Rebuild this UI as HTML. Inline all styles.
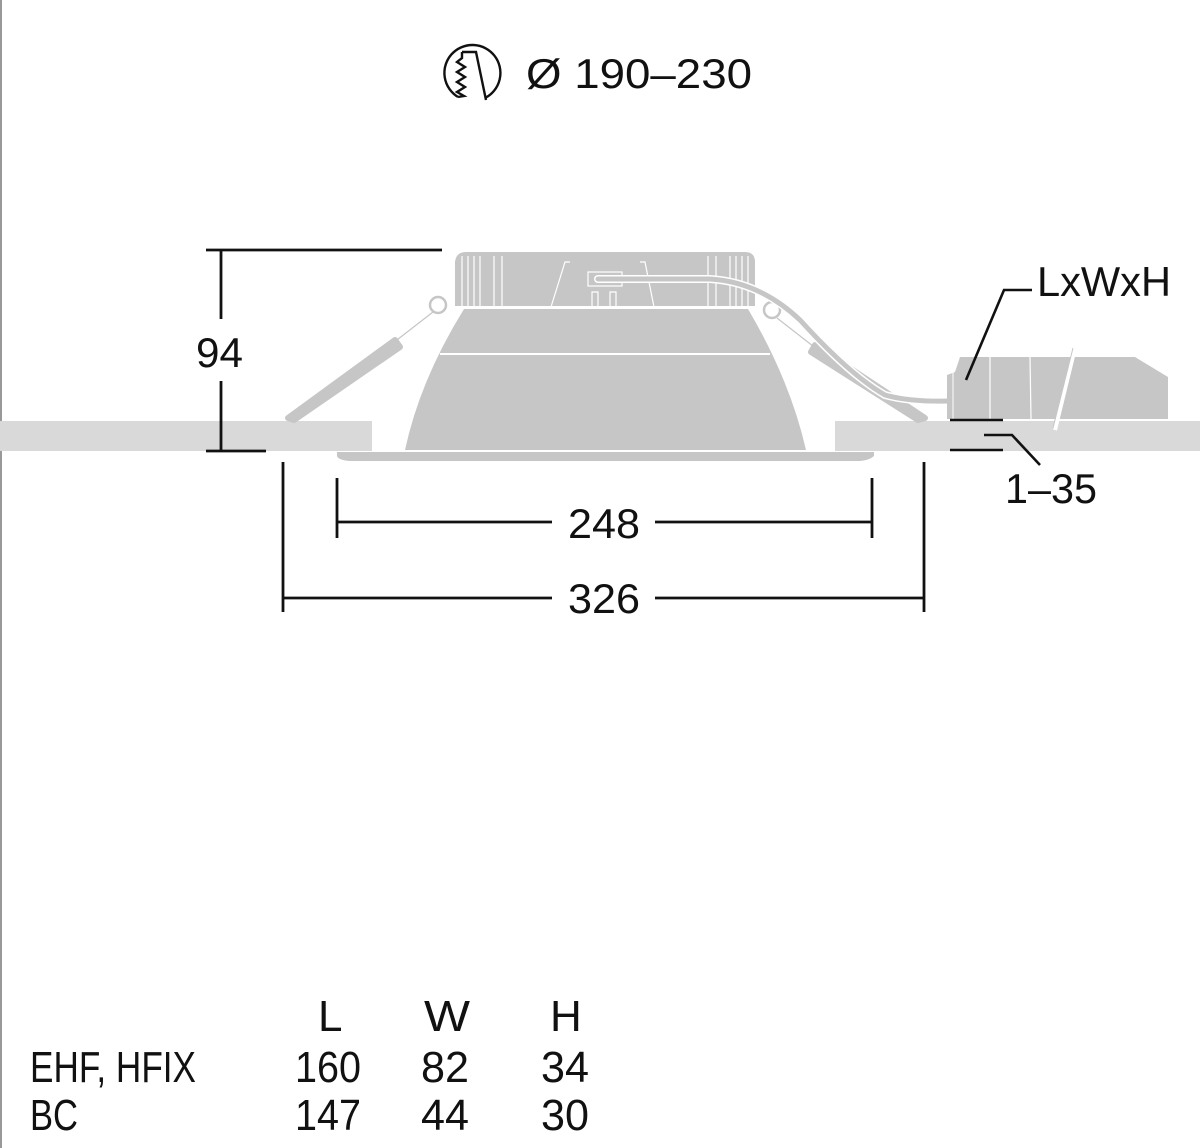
<!DOCTYPE html>
<html><head><meta charset="utf-8"><style>
html,body{margin:0;padding:0;background:#fff;}
svg{display:block;}
text{font-family:"Liberation Sans Narrow","Liberation Sans",sans-serif;fill:#111;}
</style></head><body>
<svg width="1200" height="1148" viewBox="0 0 1200 1148" xmlns="http://www.w3.org/2000/svg">
<rect x="0" y="0" width="2" height="1148" fill="#999"/>
<!-- top icon -->
<path d="M458,97 A28,28 0 1 1 485,98" fill="none" stroke="#111" stroke-width="2.4"/>
<path d="M462,52 L476,52 L486,100 M462,52 L462,58 L457,62 L465,67 L457,72 L465,77 L457,82 L465,87 L457,92 L464,96 L458,97" fill="none" stroke="#111" stroke-width="2.4" stroke-linejoin="miter"/>
<text x="526" y="88" font-size="42" textLength="226" lengthAdjust="spacingAndGlyphs">Ø 190–230</text>
<!-- ceiling -->
<rect x="0" y="421" width="372" height="30" fill="#d9d9d9"/>
<rect x="835" y="421" width="365" height="30" fill="#d9d9d9"/>
<!-- heatsink -->
<path d="M455,307 L455,262 Q456,252 466,252 L745,252 Q755,252 755,262 L755,307 Z" fill="#c6c6c6"/>
<g stroke="#fff" stroke-width="1.2">
<line x1="462" y1="256" x2="462" y2="307"/><line x1="468" y1="256" x2="468" y2="307"/><line x1="474" y1="256" x2="474" y2="307"/><line x1="480" y1="256" x2="480" y2="307"/><line x1="494" y1="256" x2="494" y2="307"/><line x1="502" y1="256" x2="502" y2="307"/>
<line x1="708" y1="256" x2="708" y2="307"/><line x1="716" y1="256" x2="716" y2="307"/><line x1="730" y1="256" x2="730" y2="307"/><line x1="736" y1="256" x2="736" y2="307"/><line x1="742" y1="256" x2="742" y2="307"/><line x1="748" y1="256" x2="748" y2="307"/>
<path d="M551,307 L565,262 L570,262 M640,262 L645,262 L654,307" fill="none"/>
<rect x="588" y="272" width="34" height="14" fill="none"/>
<path d="M592,307 L592,292 L598,292 L598,307 M610,307 L610,292 L616,292 L616,307" fill="none"/>
</g>
<line x1="455" y1="307" x2="755" y2="307" stroke="#fff" stroke-width="2"/>
<!-- reflector -->
<path d="M464,309 L748,309 Q790,380 806,450 L405,450 Q420,380 464,309 Z" fill="#c6c6c6"/>
<line x1="440" y1="354" x2="770" y2="354" stroke="#fff" stroke-width="2"/>
<!-- flange -->
<path d="M337,452 L874,452 L874,456 Q870,460 860,461 L350,461 Q338,460 337,456 Z" fill="#c6c6c6"/>
<!-- springs -->
<circle cx="438" cy="305" r="8" fill="#fff" stroke="#c6c6c6" stroke-width="2.5"/>
<circle cx="772" cy="310" r="8" fill="#fff" stroke="#c6c6c6" stroke-width="2.5"/>
<line x1="433" y1="312" x2="393" y2="343" stroke="#c6c6c6" stroke-width="1.2"/>
<line x1="777" y1="318" x2="818" y2="350" stroke="#c6c6c6" stroke-width="1.2"/>
<path d="M395,340 L288,418 L294,420 L400,347 Z" fill="#c6c6c6" stroke="#c6c6c6" stroke-width="6" stroke-linejoin="round"/>
<path d="M815,345 L925,418 L918,420 L811,352 Z" fill="#c6c6c6" stroke="#c6c6c6" stroke-width="6" stroke-linejoin="round"/>
<!-- cable -->
<path d="M598,279 L710,279 Q760,282 800,320 Q850,375 885,395 Q910,402 948,401" fill="none" stroke="#fff" stroke-width="8" stroke-linecap="round"/>
<path d="M598,279 L710,279 Q760,282 800,320 Q850,375 885,395 Q910,402 948,401" fill="none" stroke="#c6c6c6" stroke-width="5" stroke-linecap="round"/>
<!-- driver -->
<path d="M947,375 L955,372 L960,357 L1135,357 L1168,377 L1168,419 L947,419 Z" fill="#c6c6c6"/>
<line x1="990" y1="357" x2="990" y2="419" stroke="#fff" stroke-width="1.2"/>
<line x1="1030" y1="357" x2="1031" y2="419" stroke="#fff" stroke-width="1.2"/>
<line x1="953" y1="372" x2="953" y2="419" stroke="#fff" stroke-width="1"/>
<line x1="1075" y1="348" x2="1055" y2="430" stroke="#fff" stroke-width="4"/>
<line x1="1073" y1="348" x2="1053" y2="428" stroke="#c6c6c6" stroke-width="1"/>
<!-- leader LxWxH -->
<path d="M966,380 L1004,290 L1032,290" fill="none" stroke="#111" stroke-width="2.6"/>
<text x="1037" y="296" font-size="42" textLength="134" lengthAdjust="spacingAndGlyphs">LxWxH</text>
<!-- 1-35 -->
<g stroke="#111" stroke-width="2.6" fill="none">
<line x1="950" y1="420" x2="1003" y2="420"/>
<line x1="950" y1="450" x2="1003" y2="450"/>
<path d="M984,435 L1012,435 L1040,465"/>
</g>
<text x="1005" y="503" font-size="42" textLength="92" lengthAdjust="spacingAndGlyphs">1–35</text>
<!-- 94 -->
<g stroke="#111" stroke-width="2.8" fill="none">
<line x1="206" y1="250" x2="442" y2="250"/>
<line x1="206" y1="451" x2="266" y2="451"/>
<line x1="221" y1="250" x2="221" y2="319"/>
<line x1="221" y1="381" x2="221" y2="451"/>
</g>
<text x="196" y="367" font-size="42" textLength="47" lengthAdjust="spacingAndGlyphs">94</text>
<!-- 248 -->
<g stroke="#111" stroke-width="2.8" fill="none">
<line x1="337" y1="478" x2="337" y2="538"/>
<line x1="872" y1="478" x2="872" y2="538"/>
<line x1="337" y1="522" x2="552" y2="522"/>
<line x1="655" y1="522" x2="872" y2="522"/>
</g>
<text x="568" y="538" font-size="42" textLength="72" lengthAdjust="spacingAndGlyphs">248</text>
<!-- 326 -->
<g stroke="#111" stroke-width="2.8" fill="none">
<line x1="283" y1="462" x2="283" y2="612"/>
<line x1="924" y1="462" x2="924" y2="612"/>
<line x1="283" y1="598" x2="552" y2="598"/>
<line x1="655" y1="598" x2="924" y2="598"/>
</g>
<text x="568" y="613" font-size="42" textLength="72" lengthAdjust="spacingAndGlyphs">326</text>
<!-- table -->
<g font-size="44">
<text x="318" y="1031">L</text>
<text x="424" y="1031" textLength="46" lengthAdjust="spacingAndGlyphs">W</text>
<text x="550" y="1031">H</text>
<text x="30" y="1082" textLength="166" lengthAdjust="spacingAndGlyphs">EHF, HFIX</text>
<text x="295" y="1082" textLength="66" lengthAdjust="spacingAndGlyphs">160</text>
<text x="421" y="1082" textLength="48" lengthAdjust="spacingAndGlyphs">82</text>
<text x="541" y="1082" textLength="48" lengthAdjust="spacingAndGlyphs">34</text>
<text x="30" y="1130" textLength="48" lengthAdjust="spacingAndGlyphs">BC</text>
<text x="295" y="1130" textLength="66" lengthAdjust="spacingAndGlyphs">147</text>
<text x="421" y="1130" textLength="48" lengthAdjust="spacingAndGlyphs">44</text>
<text x="541" y="1130" textLength="48" lengthAdjust="spacingAndGlyphs">30</text>
</g>
</svg>
</body></html>
